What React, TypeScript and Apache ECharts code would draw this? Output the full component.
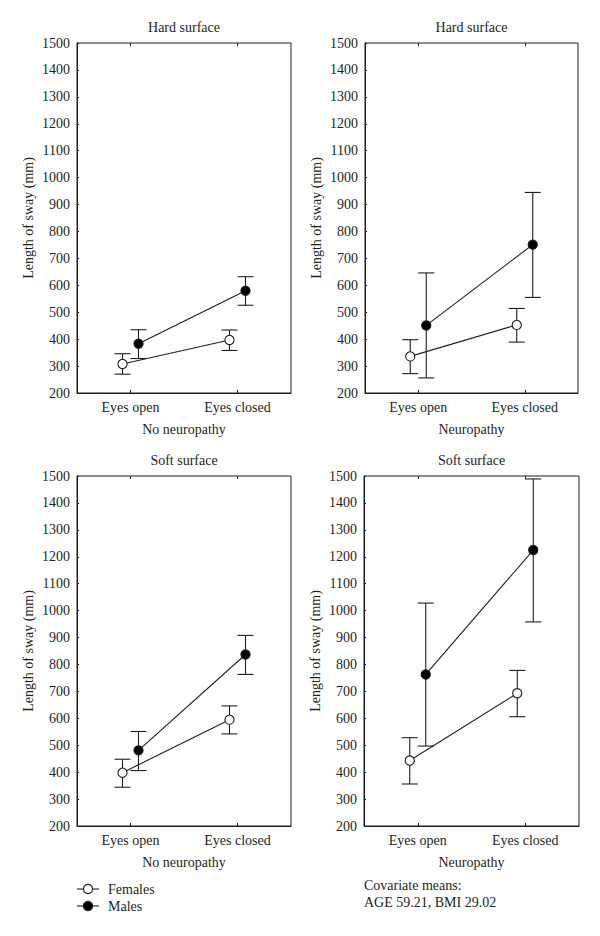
import React, { useEffect, useRef } from 'react';
import * as echarts from 'echarts';

// ---- data ----
const conditions = ['Eyes open', 'Eyes closed'];
const yMin = 200;
const yMax = 1500;
const yStep = 100;
const panelTitles = ['Hard surface', 'Hard surface', 'Soft surface', 'Soft surface'];
const groupNames = ['No neuropathy', 'Neuropathy', 'No neuropathy', 'Neuropathy'];
const seriesNames = ['Females', 'Males'];
// each entry: [mean, lower, upper] for Eyes open, Eyes closed
const hardNoNeuroFemales = [[308, 270, 346], [397, 358, 434]];
const hardNoNeuroMales = [[383, 328, 435], [580, 526, 632]];
const hardNeuroFemales = [[336, 272, 398], [453, 389, 514]];
const hardNeuroMales = [[451, 256, 646], [751, 555, 945]];
const softNoNeuroFemales = [[398, 344, 448], [595, 542, 646]];
const softNoNeuroMales = [[481, 406, 551], [837, 763, 908]];
const softNeuroFemales = [[443, 356, 528], [693, 606, 778]];
const softNeuroMales = [[763, 497, 1028], [1225, 958, 1489]];
const covariateLines = ['Covariate means:', 'AGE 59.21, BMI 29.02'];

const panelData = [
  [hardNoNeuroFemales, hardNoNeuroMales],
  [hardNeuroFemales, hardNeuroMales],
  [softNoNeuroFemales, softNoNeuroMales],
  [softNeuroFemales, softNeuroMales],
];

// ---- layout ----
const grids = [
  { left: 77, top: 43, width: 214, height: 350 },
  { left: 365, top: 43, width: 213, height: 350 },
  { left: 77, top: 476, width: 214, height: 350 },
  { left: 364, top: 476, width: 215, height: 350 },
];
const FONT = '"Liberation Serif", "Times New Roman", serif';
const INK = '#1e1e1e';
const TXT = '#231f20';
const FS = 14;

function makeRenderItem(offset: number, filled: boolean) {
  return (params: any, api: any) => {
    const pts = [0, 1].map((i) => {
      const m = api.coord([i, api.value(1 + i * 3)]);
      const lo = api.coord([i, api.value(2 + i * 3)]);
      const hi = api.coord([i, api.value(3 + i * 3)]);
      return { x: m[0] + offset, y: m[1], lo: lo[1], hi: hi[1] };
    });
    const st = { stroke: INK, lineWidth: 1.1 };
    const children: any[] = [];
    pts.forEach((p) => {
      children.push({ type: 'line', shape: { x1: p.x, y1: p.lo, x2: p.x, y2: p.hi }, style: st });
      children.push({ type: 'line', shape: { x1: p.x - 8, y1: p.lo, x2: p.x + 8, y2: p.lo }, style: st });
      children.push({ type: 'line', shape: { x1: p.x - 8, y1: p.hi, x2: p.x + 8, y2: p.hi }, style: st });
    });
    children.push({
      type: 'line',
      shape: { x1: pts[0].x, y1: pts[0].y, x2: pts[1].x, y2: pts[1].y },
      style: st,
    });
    pts.forEach((p) => {
      children.push({
        type: 'circle',
        shape: { cx: p.x, cy: p.y, r: 4.6 },
        style: { fill: filled ? '#000' : '#fff', stroke: INK, lineWidth: 1.1 },
      });
    });
    return { type: 'group', children };
  };
}

function buildOption() {
  const grid: any[] = [];
  const xAxis: any[] = [];
  const yAxis: any[] = [];
  const series: any[] = [];
  const graphic: any[] = [];

  grids.forEach((g, i) => {
    grid.push({ ...g, show: true, borderColor: INK, borderWidth: 1, backgroundColor: 'transparent' });
    xAxis.push({
      type: 'category',
      gridIndex: i,
      data: conditions,
      boundaryGap: true,
      name: groupNames[i],
      nameLocation: 'middle',
      nameGap: 29,
      nameTextStyle: { fontFamily: FONT, fontSize: FS, color: TXT },
      axisLine: { show: true, lineStyle: { color: INK, width: 1 } },
      axisTick: { show: true, inside: true, length: 3, alignWithLabel: true, lineStyle: { color: INK } },
      axisLabel: { fontFamily: FONT, fontSize: FS, color: TXT, margin: 7 },
      splitLine: { show: false },
    });
    xAxis.push({
      type: 'category',
      gridIndex: i,
      data: conditions,
      position: 'top',
      boundaryGap: true,
      axisLine: { show: false },
      axisTick: { show: true, inside: true, length: 3, alignWithLabel: true, lineStyle: { color: INK } },
      axisLabel: { show: false },
      splitLine: { show: false },
    });
    yAxis.push({
      type: 'value',
      gridIndex: i,
      min: yMin,
      max: yMax,
      interval: yStep,
      name: 'Length of sway (mm)',
      nameLocation: 'middle',
      nameGap: 42,
      nameTextStyle: { fontFamily: FONT, fontSize: FS, color: TXT },
      axisLine: { show: true, lineStyle: { color: INK, width: 1 } },
      axisTick: { show: true, inside: true, length: 2, lineStyle: { color: INK } },
      axisLabel: {
        fontFamily: FONT,
        fontSize: FS,
        color: TXT,
        margin: 7,
        formatter: (v: number) => String(v),
      },
      splitLine: { show: false },
    });
    const [fem, mal] = panelData[i];
    [fem, mal].forEach((d, s) => {
      series.push({
        type: 'custom',
        name: seriesNames[s],
        xAxisIndex: i * 2,
        yAxisIndex: i,
        renderItem: makeRenderItem(s === 0 ? -8 : 8, s === 1),
        data: [[0, d[0][0], d[0][1], d[0][2], d[1][0], d[1][1], d[1][2]]],
        z: 2 + s,
        silent: true,
      });
    });
    graphic.push({
      type: 'text',
      x: g.left + g.width / 2,
      y: g.top - 16,
      style: {
        text: panelTitles[i],
        fontFamily: FONT,
        fontSize: FS,
        fill: TXT,
        align: 'center',
        verticalAlign: 'middle',
      },
    });
  });

  // legend
  const legendY = [889, 906];
  seriesNames.forEach((n, s) => {
    graphic.push({
      type: 'line',
      shape: { x1: 77, y1: legendY[s], x2: 99, y2: legendY[s] },
      style: { stroke: INK, lineWidth: 1.1 },
    });
    graphic.push({
      type: 'circle',
      shape: { cx: 88, cy: legendY[s], r: 4.6 },
      style: { fill: s === 1 ? '#000' : '#fff', stroke: INK, lineWidth: 1.1 },
    });
    graphic.push({
      type: 'text',
      x: 108,
      y: legendY[s],
      style: { text: n, fontFamily: FONT, fontSize: FS, fill: TXT, align: 'left', verticalAlign: 'middle' },
    });
  });
  covariateLines.forEach((t, k) => {
    graphic.push({
      type: 'text',
      x: 364,
      y: 885 + k * 17,
      style: { text: t, fontFamily: FONT, fontSize: FS, fill: TXT, align: 'left', verticalAlign: 'middle' },
    });
  });

  return {
    animation: false,
    backgroundColor: '#fff',
    textStyle: { fontFamily: FONT },
    grid,
    xAxis,
    yAxis,
    series,
    graphic,
  };
}

export default function App() {
  const ref = useRef<HTMLDivElement>(null);
  useEffect(() => {
    if (!ref.current) return;
    const chart = echarts.init(ref.current, undefined, { renderer: 'svg' });
    chart.setOption(buildOption() as any);
    return () => chart.dispose();
  }, []);
  return (
    <div
      ref={ref}
      style={{ position: 'absolute', left: 0, top: 0, width: 600, height: 936, background: '#fff' }}
    />
  );
}
